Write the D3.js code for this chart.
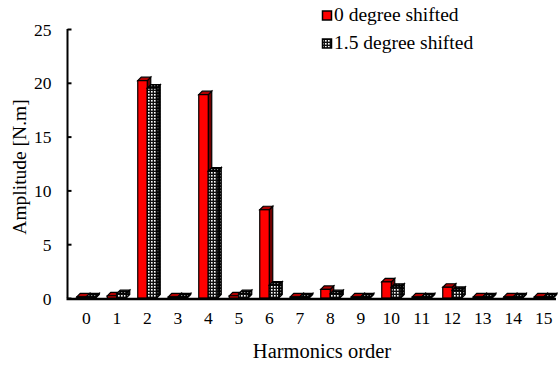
<!DOCTYPE html>
<html>
<head>
<meta charset="utf-8">
<script src="https://cdn.jsdelivr.net/npm/d3@7"></script>
<style>
  body { margin: 0; background: #fff; }
  text { font-family: "Liberation Serif", "Times New Roman", serif; fill: #000; }
</style>
</head>
<body>
<div class="canvas"></div>
<script>
// data
const harmonics = d3.range(0, 16).map(String);
const shift0 = [0.1, 0.2, 20.2, 0.1, 18.9, 0.2, 8.2, 0.1, 0.8, 0.1, 1.5, 0.1, 1.0, 0.1, 0.1, 0.1];
const shift15 = [0.1, 0.4, 19.5, 0.1, 11.8, 0.4, 1.2, 0.1, 0.4, 0.1, 1.0, 0.1, 0.7, 0.1, 0.1, 0.1];
const seriesNames = ['0 degree shifted', '1.5 degree shifted'];
const yTicks = [0, 5, 10, 15, 20, 25];

const width = 558, height = 367;

const svg = d3.select('.canvas')
  .append('svg')
  .attr('width', width)
  .attr('height', height);

// pattern for the dotted series
const defs = svg.append('defs');
const pat = defs.append('pattern')
  .attr('id', 'dots')
  .attr('patternUnits', 'userSpaceOnUse')
  .attr('width', 3).attr('height', 3);
pat.append('rect').attr('width', 3).attr('height', 3).attr('fill', '#111');
pat.append('rect').attr('x', 1).attr('y', 1).attr('width', 1.6).attr('height', 1.6).attr('fill', '#fff');

const patDark = defs.append('pattern')
  .attr('id', 'dotsDark')
  .attr('patternUnits', 'userSpaceOnUse')
  .attr('width', 3).attr('height', 3);
patDark.append('rect').attr('width', 3).attr('height', 3).attr('fill', '#000');
patDark.append('rect').attr('x', 1).attr('y', 1).attr('width', 1.3).attr('height', 1.3).attr('fill', '#888');

//scales
const x = d3.scaleBand()
  .domain(harmonics)
  .range([72, 560])
  .padding(0);

const y = d3.scaleLinear()
  .domain([0, 25])
  .range([298, 29]);

// axes
const yAxis = d3.axisRight(y).tickValues(yTicks).tickSize(4).tickFormat(d3.format('d'));
const yAxisGroup = svg.append('g')
  .attr('transform', 'translate(67.5,0)')
  .call(yAxis);
yAxisGroup.select('.domain').attr('stroke-width', 2).attr('d', `M0,${y(0)}V${y(25)}`);
yAxisGroup.selectAll('.tick line').attr('stroke-width', 2);
yAxisGroup.selectAll('.tick text')
  .attr('x', -16)
  .attr('text-anchor', 'end')
  .attr('dy', '0.35em')
  .style('font-size', '17.5px')
  .style('font-family', '"Liberation Serif", serif');

const xAxis = d3.axisBottom(x).tickSize(0).tickPadding(13);
const xAxisGroup = svg.append('g')
  .attr('transform', `translate(0,${y(0) + 1})`)
  .call(xAxis);
xAxisGroup.select('.domain').attr('stroke-width', 2.5).attr('d', 'M66.5,0H556');
xAxisGroup.selectAll('.tick text')
  .attr('dx', -1)
  .style('font-size', '17.5px')
  .style('font-family', '"Liberation Serif", serif');

// 3D bars
const bw = 9.5, depth = 3.5;
const series = [
  {values: shift0, front: '#ff0000', top: '#b00000', side: '#700000', off: -10.5},
  {values: shift15, front: 'url(#dots)', top: 'url(#dotsDark)', side: 'url(#dotsDark)', off: -1}
];

series.forEach(s => {
  const g = svg.append('g');
  const base = y(0);
  const bars = g.selectAll('g.bar')
    .data(s.values.map((v, i) => ({v, h: harmonics[i]})))
    .enter().append('g').attr('class', 'bar');

  const bx = d => x(d.h) + x.bandwidth() / 2 + s.off;

  bars.append('path')
    .attr('d', d => {
      const x0 = bx(d) + bw, yt = y(d.v);
      return `M${x0},${yt}L${x0 + depth},${yt - depth}L${x0 + depth},${base - depth}L${x0},${base}Z`;
    })
    .attr('fill', s.side)
    .attr('stroke', '#000').attr('stroke-width', 1.2);

  bars.append('path')
    .attr('d', d => {
      const x0 = bx(d), yt = y(d.v);
      return `M${x0},${yt}L${x0 + bw},${yt}L${x0 + bw + depth},${yt - depth}L${x0 + depth},${yt - depth}Z`;
    })
    .attr('fill', s.top)
    .attr('stroke', '#000').attr('stroke-width', 1.2);

  bars.append('rect')
    .attr('x', bx)
    .attr('y', d => y(d.v))
    .attr('width', bw)
    .attr('height', d => base - y(d.v))
    .attr('fill', s.front)
    .attr('stroke', '#000').attr('stroke-width', 1.2);
});

// legend
const legend = svg.append('g');
seriesNames.forEach((name, i) => {
  const ly = 11 + i * 28;
  legend.append('rect')
    .attr('x', 322.5).attr('y', ly)
    .attr('width', 9).attr('height', 9)
    .attr('fill', i === 0 ? '#ff0000' : 'url(#dots)')
    .attr('stroke', '#000').attr('stroke-width', 1.5);
  legend.append('text')
    .attr('x', 334).attr('y', ly + 10)
    .style('font-size', '19.5px')
    .text(name);
});

// axis titles
svg.append('text')
  .attr('x', 322).attr('y', 358)
  .attr('text-anchor', 'middle')
  .style('font-size', '20.5px')
  .text('Harmonics order');

svg.append('text')
  .attr('transform', 'translate(26,167) rotate(-90)')
  .attr('text-anchor', 'middle')
  .style('font-size', '19.5px')
  .text('Amplitude [N.m]');
</script>
</body>
</html>
